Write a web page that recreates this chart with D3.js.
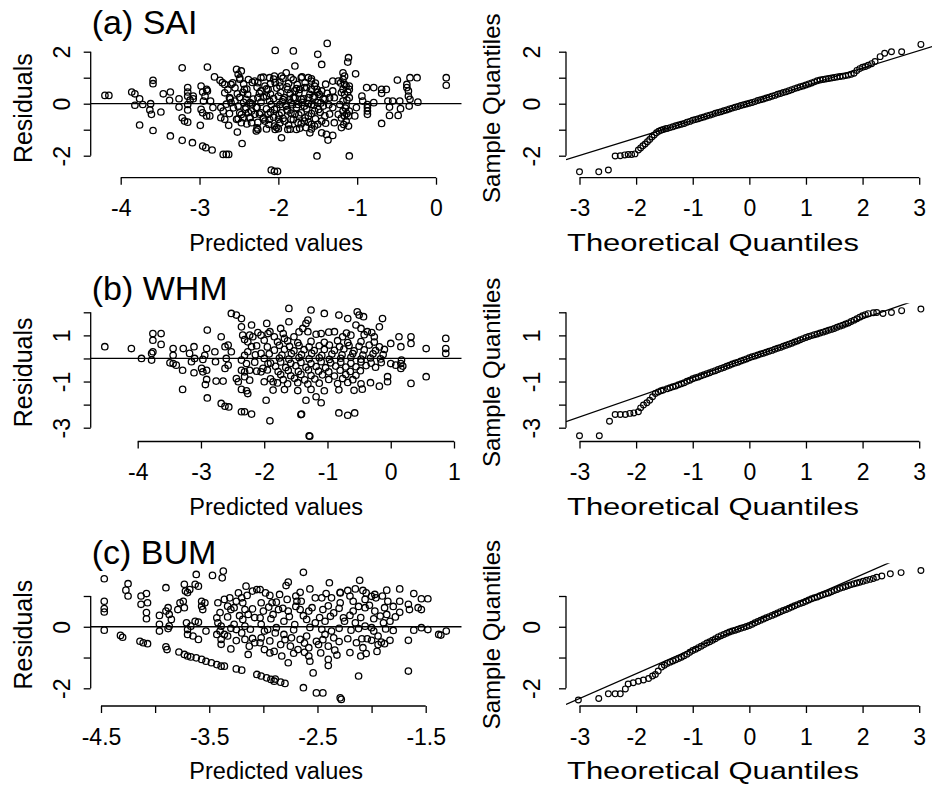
<!DOCTYPE html>
<html>
<head>
<meta charset="utf-8">
<script src="https://cdnjs.cloudflare.com/ajax/libs/d3/7.8.5/d3.min.js"></script>
<style>
  body { margin: 0; background: #fff; }
  text { font-family: "Liberation Sans", Arial, Helvetica, sans-serif; fill: #000; }
</style>
</head>
<body>
<svg id="fig" width="932" height="793"></svg>
<script>
// ---- data ----
// (a) SAI : residuals vs predicted values
var saiResid = [
  [-4.20,0.32],[-4.15,0.32],[-3.86,0.45],[-3.82,0.38],[-3.76,0.19],[-3.82,-0.06],[-3.72,-0.03],[-3.76,-0.82],
  [-3.59,0.90],[-3.59,0.77],[-3.62,0.00],[-3.63,-0.24],[-3.61,-0.41],[-3.59,-1.03],[-3.49,-0.32],[-3.46,0.38],
  [-3.37,0.45],[-3.38,0.13],[-3.37,-1.24],[-3.26,0.19],[-3.26,-0.13],[-3.22,1.38],[-3.22,-0.54],[-3.19,-0.67],
  [-3.15,-0.71],[-3.22,-1.41],[-3.15,0.62],[-3.15,0.45],[-3.15,0.29],[-3.12,0.14],[-3.15,-0.03],[-3.15,-0.24],
  [-3.08,0.29],[-3.08,0.19],[-3.09,-1.50],[-2.99,-0.83],[-2.98,0.68],[-2.96,0.45],[-2.93,0.29],[-2.95,0.10],
  [-2.98,-0.22],[-2.96,-0.35],[-2.91,-0.47],[-2.87,-0.47],[-2.96,-1.63],[-2.92,-1.69],[-2.90,1.41],[-2.84,-1.78],
  [-2.91,0.55],[-2.90,0.49],[-2.81,1.03],[-2.74,0.90],[-2.71,0.81],[-2.68,0.74],[-2.86,0.10],[-2.83,-0.15],
  [-2.73,-0.15],[-2.70,-0.28],[-2.73,-0.54],[-2.68,-0.60],[-2.70,-1.95],[-2.66,-1.95],[-2.63,-1.95],[-2.63,-0.83],
  [-2.64,0.55],[-2.60,0.74],[-2.62,0.23],[-2.60,0.04],[-2.53,1.32],[-2.51,1.13],[-2.49,0.94],[-2.47,1.26],
  [-2.55,0.10],[-2.51,-0.09],[-2.49,-0.35],[-2.53,-0.60],[-2.47,-0.73],[-2.45,-0.54],[-2.52,-1.09],[-2.46,-1.53],
  [-2.43,0.55],[-2.39,0.36],[-2.41,0.17],[-2.36,0.04],[-2.41,-0.15],[-2.34,-0.28],[-2.30,-0.41],[-2.36,-0.54],
  [-2.34,-0.73],[-2.30,0.87],[-2.22,1.00],[-2.26,0.81],[-2.17,0.68],[-2.22,0.49],[-2.13,0.55],[-2.15,0.29],
  [-2.11,0.10],[-2.26,0.23],[-2.28,-0.15],[-2.22,-0.35],[-2.19,-0.54],[-2.17,-0.67],[-2.26,-0.99],[-2.28,-1.05],
  [-2.13,-0.41],[-2.05,-0.22],[-2.11,-0.60],[-2.05,-0.86],[-2.04,-0.99],[-2.05,1.06],[-2.04,0.81],[-2.11,1.00],
  [-2.04,2.05],[-2.09,-2.55],[-2.05,-2.60],[-2.01,-2.60],
  [-1.81,2.03],[-1.50,1.90],[-1.38,2.32],[-1.45,1.51],[-1.79,1.45],[-1.90,1.19],[-1.84,1.00],[-1.71,1.00],
  [-1.62,1.00],[-1.58,0.87],[-1.96,1.06],[-1.98,0.68],[-1.88,0.55],[-1.79,0.49],[-1.73,0.55],[-1.67,0.62],
  [-1.58,0.55],[-1.54,0.68],[-1.45,0.49],[-2.00,0.29],[-1.92,0.23],[-1.86,0.17],[-1.79,0.23],[-1.71,0.17],
  [-1.62,0.23],[-1.54,0.29],[-1.48,0.36],[-1.41,0.17],[-1.35,0.23],[-1.98,-0.03],[-1.90,-0.09],[-1.84,0.04],
  [-1.75,-0.03],[-1.67,-0.09],[-1.58,-0.03],[-1.50,0.04],[-1.43,-0.09],[-1.96,-0.35],[-1.88,-0.28],[-1.79,-0.41],
  [-1.71,-0.35],[-1.62,-0.47],[-1.54,-0.28],[-1.41,-0.47],[-2.00,-0.60],[-1.92,-0.67],[-1.84,-0.60],[-1.75,-0.73],
  [-1.67,-0.67],[-1.58,-0.79],[-1.45,-0.67],[-2.00,-0.96],[-1.88,-0.99],[-1.77,-0.99],[-1.65,-0.92],[-1.54,-0.86],
  [-1.96,-1.31],[-1.60,-1.12],[-1.45,-1.12],[-1.39,-1.18],[-1.37,-1.40],[-1.31,-1.22],[-1.51,-2.01],[-1.31,0.87],
  [-1.24,0.87],[-1.31,0.49],[-1.29,0.23],[-1.31,-0.15],[-1.24,-0.41],[-1.29,-0.73],[-1.18,1.19],[-1.16,1.06],
  [-1.18,0.94],[-1.16,0.74],[-1.18,0.55],[-1.14,0.68],[-1.16,0.36],[-1.18,0.10],[-1.14,-0.09],[-1.18,-0.28],
  [-1.16,-0.47],[-1.14,-0.67],[-1.11,-0.86],[-1.11,1.77],[-1.12,1.60],[-1.10,0.68],[-1.10,0.55],[-1.10,0.23],
  [-1.10,-0.28],[-1.11,-0.47],[-1.10,-2.01],[-1.02,1.15],[-1.01,-0.15],[-1.03,-0.47],[-0.94,0.29],[-0.93,0.10],
  [-0.88,0.62],[-0.79,0.62],[-0.87,-0.03],[-0.87,-0.15],[-0.87,-0.28],[-0.87,-0.41],[-0.79,0.04],[-0.69,0.55],
  [-0.63,0.55],[-0.69,0.40],[-0.69,-0.76],[-0.61,0.10],[-0.59,-0.13],[-0.59,-0.45],[-0.48,-0.45],[-0.55,0.10],
  [-0.49,0.91],[-0.46,0.10],[-0.45,-0.19],[-0.37,0.74],[-0.37,0.62],[-0.35,0.49],[-0.35,0.29],[-0.33,0.17],
  [-0.34,-0.09],[-0.33,1.00],[-0.24,1.00],[-0.23,0.06],[0.13,1.00],[0.13,0.71],
  [-2.49,0.99],[-2.38,0.93],[-2.19,1.02],[-2.06,0.95],[-1.94,0.98],[-1.81,0.92],[-1.70,1.03],[-1.58,0.96],
  [-2.55,0.61],[-2.40,0.56],[-2.27,0.63],[-2.15,0.57],[-2.02,0.60],[-1.89,0.65],[-1.77,0.58],[-1.64,0.62],[-1.51,0.55],
  [-2.61,0.19],[-2.49,0.24],[-2.32,0.18],[-2.19,0.25],[-2.06,0.20],[-1.94,0.16],[-1.81,0.23],[-1.68,0.19],[-1.56,0.25],[-1.43,0.20],
  [-2.57,-0.16],[-2.42,-0.21],[-2.27,-0.14],[-2.15,-0.20],[-2.02,-0.17],[-1.89,-0.23],[-1.77,-0.15],[-1.64,-0.19],[-1.49,-0.22],
  [-2.51,-0.58],[-2.36,-0.53],[-2.19,-0.59],[-2.06,-0.52],[-1.94,-0.57],[-1.81,-0.61],[-1.66,-0.54],[-1.53,-0.58],
  [-2.27,-0.93],[-2.15,-0.97],[-2.02,-0.92],[-1.85,-0.98],[-1.73,-0.94],[-1.58,-0.97],
  [-2.58,0.80],[-2.44,0.76],[-2.33,0.82],[-2.10,0.77],[-1.98,0.83],[-1.87,0.78],[-1.76,0.74],[-1.66,0.81],[-1.53,0.79],[-1.40,0.75],
  [-2.68,0.42],[-2.52,0.38],[-2.45,0.44],[-2.24,0.40],[-2.10,0.37],[-1.97,0.43],[-1.85,0.39],[-1.74,0.41],[-1.60,0.36],[-1.50,0.44],[-1.38,0.40],
  [-2.66,-0.02],[-2.44,0.05],[-2.33,-0.01],[-2.22,0.06],[-2.09,-0.03],[-1.95,0.07],[-1.82,-0.04],[-1.70,0.05],[-1.62,0.00],[-1.55,-0.05],[-1.46,0.03],[-1.36,-0.04],
  [-2.62,-0.38],[-2.47,-0.42],[-2.38,-0.34],[-2.24,-0.40],[-2.10,-0.33],[-1.99,-0.44],[-1.84,-0.36],[-1.74,-0.43],[-1.58,-0.38],[-1.47,-0.33],[-1.35,-0.40],
  [-2.40,-0.78],[-2.26,-0.72],[-2.12,-0.80],[-1.98,-0.74],[-1.87,-0.82],[-1.71,-0.77],[-1.62,-0.71],[-1.50,-0.79],[-1.40,-0.75],
  [-1.21,0.80],[-1.20,0.43],[-1.22,-0.03],[-1.20,-0.55],[-1.13,0.14],[-1.15,-0.17],[-1.12,0.45],[-1.17,-0.80],[-1.13,-0.38],[-1.20,-0.92]
];

// (b) WHM : residuals vs predicted values
var whmResid = [
  [-4.52,0.51],[-4.10,0.43],[-3.94,0.00],[-3.78,0.22],[-3.76,0.29],[-3.78,-0.07],[-3.76,1.08],[-3.63,1.08],
  [-3.76,0.79],[-3.63,0.61],[-3.49,-0.19],[-3.44,-0.22],[-3.39,-0.29],[-3.44,0.43],[-3.44,0.14],[-3.29,-0.51],
  [-3.29,-1.34],[-3.28,0.43],[-3.18,0.22],[-3.15,-0.14],[-3.11,0.51],[-3.10,0.00],[-3.11,-0.62],[-2.99,-0.43],
  [-2.97,-0.58],[-2.91,-0.51],[-2.94,0.14],[-2.91,0.43],[-2.97,-0.04],[-2.90,1.23],[-2.91,-0.91],[-2.93,-1.13],
  [-2.90,-1.71],[-2.78,0.29],[-2.77,-0.14],[-2.76,-0.98],[-2.65,-0.98],[-2.68,0.94],[-2.62,0.51],[-2.57,0.58],
  [-2.52,0.29],[-2.60,0.00],[-2.57,-0.29],[-2.62,-0.43],[-2.68,-1.95],[-2.62,-2.07],[-2.56,-2.10],[-2.52,1.95],
  [-2.44,1.88],[-2.36,1.73],[-2.36,1.37],[-2.34,1.01],[-2.31,0.82],[-2.44,-0.87],[-2.41,-1.01],[-2.31,-0.79],
  [-2.23,-0.94],[-2.36,-2.31],[-2.31,-2.31],[-2.20,-2.41],[-2.20,1.45],[-2.23,1.01],[-2.18,0.94],[-2.26,0.72],
  [-2.20,0.51],[-2.26,0.29],[-2.31,0.14],[-2.36,-0.07],[-2.28,-0.22],[-2.36,-0.51],[-2.31,-0.58],[-2.23,-0.51],
  [-2.36,-1.34],[-2.28,-1.40],[-2.26,-1.52],[-2.00,-1.01],[-1.97,-1.81],[-2.05,1.01],[-2.00,0.79],[-1.94,1.08],
  [-1.91,1.16],[-2.05,0.22],[-2.00,0.00],[-1.94,-0.22],[-2.02,-0.43],[-2.05,-0.58],[-1.91,-2.70],[-1.96,1.52],
  [-1.86,-1.01],[-1.86,-1.37],
  [-1.61,2.17],[-1.26,2.10],[-1.05,1.95],[-0.82,1.88],[-0.68,1.73],[-0.53,2.02],[-0.50,1.88],[-0.43,1.81],
  [-0.13,1.73],[-1.61,1.59],[-1.31,1.66],[-1.34,1.52],[-1.39,1.30],[-1.74,1.30],[-1.84,0.94],[-1.68,0.87],
  [-1.53,0.94],[-1.31,1.16],[-1.10,1.08],[-0.89,1.16],[-0.76,0.94],[-0.63,1.01],[-0.55,1.45],[-0.47,1.30],
  [-0.37,1.16],[-0.26,0.94],[-0.18,1.37],[0.00,0.65],[0.13,0.94],[0.16,0.51],[0.32,0.94],[0.32,0.65],
  [0.56,0.43],[0.87,0.87],[0.87,0.43],[0.87,0.22],[0.00,-0.22],[0.08,-0.29],[0.16,-0.22],[0.16,-0.43],
  [-0.05,-0.79],[-0.05,-1.01],[0.32,-1.08],[0.56,-0.79],[-0.18,-1.20],[-0.32,-1.05],[0.17,-0.07],[0.19,-0.33],
  [-1.79,0.72],[-1.63,0.76],[-1.47,0.68],[-1.26,0.74],[-1.05,0.70],[-0.84,0.77],[-0.68,0.69],[-0.47,0.73],[-0.26,0.71],
  [-1.84,0.36],[-1.68,0.40],[-1.53,0.33],[-1.37,0.38],[-1.21,0.34],[-1.05,0.39],[-0.89,0.35],[-0.74,0.41],
  [-0.58,0.33],[-0.42,0.37],[-0.24,0.34],[-0.10,0.39],
  [-1.76,0.02],[-1.61,-0.03],[-1.45,0.04],[-1.29,-0.02],[-1.13,0.03],[-0.97,-0.04],[-0.79,0.01],[-0.63,0.05],
  [-0.47,-0.03],[-0.32,0.02],[-0.16,-0.02],
  [-1.82,-0.34],[-1.66,-0.39],[-1.50,-0.32],[-1.34,-0.38],[-1.18,-0.35],[-1.03,-0.40],[-0.87,-0.33],[-0.71,-0.37],
  [-0.55,-0.36],[-0.39,-0.31],[-0.24,-0.38],
  [-1.74,-0.70],[-1.58,-0.75],[-1.42,-0.69],[-1.26,-0.74],[-1.08,-0.71],[-0.89,-0.76],[-0.71,-0.70],[-0.55,-0.73],
  [-1.79,-1.06],[-1.63,-1.10],[-1.47,-1.05],[-1.31,-1.11],[-1.13,-1.07],[-0.84,-1.09],[-0.68,-1.04],[-0.47,-1.10],
  [-1.68,-1.35],[-1.47,-1.39],[-1.26,-1.34],[-1.05,-1.40],[-0.82,-1.36],[-0.58,-1.38],[-0.45,-1.33],
  [-1.34,-1.81],[-1.18,-1.66],[-1.10,-1.92],[-1.42,-2.43],[-0.82,-2.36],[-0.68,-2.46],[-0.57,-2.36],
  [-1.29,-3.35],[-1.28,-3.37],[-1.41,-2.41],
  [-2.10,1.12],[-1.70,1.08],[-1.45,1.15],[-1.18,1.05],[-0.98,1.14],[-0.70,1.10],[-0.42,1.03],[-0.30,1.12],
  [-2.12,0.55],[-1.95,0.50],[-1.76,0.57],[-1.60,0.52],[-1.45,0.56],[-1.29,0.50],[-1.13,0.55],[-0.97,0.58],
  [-0.81,0.51],[-0.66,0.56],[-0.50,0.53],[-0.34,0.58],[-0.18,0.50],
  [-2.14,0.16],[-1.92,0.20],[-1.72,0.15],[-1.57,0.21],[-1.41,0.17],[-1.25,0.22],[-1.09,0.14],[-0.93,0.19],
  [-0.77,0.16],[-0.60,0.21],[-0.44,0.15],[-0.28,0.20],[-0.12,0.17],
  [-2.15,-0.16],[-1.90,-0.20],[-1.74,-0.15],[-1.58,-0.21],[-1.42,-0.17],[-1.26,-0.22],[-1.10,-0.14],[-0.95,-0.19],
  [-0.79,-0.16],[-0.63,-0.21],[-0.47,-0.15],[-0.31,-0.20],[-0.15,-0.18],
  [-2.12,-0.55],[-1.95,-0.50],[-1.78,-0.57],[-1.62,-0.52],[-1.46,-0.56],[-1.30,-0.50],[-1.14,-0.55],[-0.98,-0.58],
  [-0.80,-0.51],[-0.64,-0.56],[-0.48,-0.53],
  [-1.90,-0.88],[-1.70,-0.92],[-1.52,-0.86],[-1.36,-0.93],[-1.20,-0.89],[-0.98,-0.91],[-0.76,-0.87],[-0.60,-0.92]
];

// (c) BUM : residuals vs predicted values
var bumResid = [
  [-4.47,1.56],[-4.47,0.83],[-4.47,0.59],[-4.47,0.48],[-4.47,-0.11],[-4.32,-0.28],[-4.30,-0.34],[-4.25,1.40],
  [-4.27,1.19],[-4.25,1.00],[-4.14,-0.47],[-4.11,-0.52],[-4.07,-0.55],[-4.13,1.00],[-4.08,1.08],[-4.13,0.73],
  [-4.07,0.78],[-4.08,0.46],[-4.08,0.26],[-3.90,1.27],[-3.96,0.37],[-3.96,0.08],[-3.96,-0.14],[-3.90,-0.65],
  [-3.89,-0.74],[-3.88,0.62],[-3.90,0.51],[-3.87,0.40],[-3.85,0.24],[-3.87,0.02],[-3.88,-0.06],[-3.78,-0.82],
  [-3.73,-0.90],[-3.70,-0.95],[-3.67,-0.98],[-3.62,-1.01],[-3.57,-1.06],[-3.53,-1.12],[-3.48,-1.17],[-3.43,-1.23],
  [-3.39,-1.28],[-3.36,-1.28],[-3.25,-1.37],[-3.20,-1.41],[-3.06,-1.55],[-3.02,-1.60],[-2.97,-1.66],[-2.93,-1.71],
  [-2.90,-1.77],[-3.73,1.38],[-3.72,1.16],[-3.68,1.21],[-3.70,1.11],[-3.62,1.70],[-3.60,1.32],[-3.63,1.38],
  [-3.77,0.78],[-3.74,0.83],[-3.73,0.62],[-3.79,0.56],[-3.71,0.13],[-3.70,-0.09],[-3.67,0.02],[-3.70,-0.25],
  [-3.65,-0.30],[-3.60,-0.41],[-3.63,0.18],[-3.60,0.15],[-3.57,0.83],[-3.54,0.78],[-3.56,0.56],[-3.57,0.67],
  [-3.53,-0.14],[-3.47,1.67],[-3.37,1.81],[-3.38,1.59],[-3.42,0.78],[-3.40,0.46],[-3.43,0.29],[-3.42,0.13],
  [-3.39,0.02],[-3.40,-0.14],[-3.36,-0.25],[-3.43,-0.25],[-3.39,-0.41],[-3.39,-0.57],[-3.33,-0.30],[-3.30,-0.72],
  [-3.36,0.89],[-3.31,0.94],[-3.33,0.67],[-3.30,0.56],[-3.25,0.83],[-3.27,0.08],[-3.25,-0.09],[-3.23,1.10],
  [-3.20,0.94],[-3.19,0.78],[-3.17,0.56],[-3.14,0.40],[-3.19,0.24],[-3.17,0.02],[-3.20,-0.20],[-3.17,-0.41],
  [-3.13,-0.63],[-3.08,-0.52],[-3.16,1.32],[-3.10,1.16],[-3.06,1.21],[-3.03,1.21],[-3.14,-0.90],[-3.02,0.78],
  [-3.00,0.51],[-3.03,0.29],[-3.02,0.08],[-2.99,-0.14],[-3.02,-0.36],[-3.03,-0.52],[-2.99,-0.74],[-2.94,-0.85],
  [-2.96,-0.09],[-2.91,0.40],[-2.94,1.02],[-2.92,0.78],
  [-2.63,1.77],[-2.77,1.45],[-2.79,1.34],[-2.66,1.12],[-2.57,1.23],[-2.39,1.43],[-2.29,1.12],[-2.29,1.10],
  [-2.22,1.18],[-2.15,1.23],[-2.11,1.51],[-2.08,1.18],[-1.97,1.05],[-1.96,0.94],[-1.86,1.19],[-1.74,1.23],
  [-1.61,1.08],[-1.54,0.91],[-1.48,0.91],[-2.88,0.80],[-2.78,0.89],[-2.69,0.83],[-2.65,0.83],[-2.52,0.94],
  [-2.46,0.94],[-2.37,0.94],[-2.29,0.78],[-2.17,0.83],[-2.06,0.89],[-2.00,0.99],[-1.85,0.83],[-1.74,0.83],
  [-1.66,0.73],[-1.57,0.62],[-2.86,0.56],[-2.77,0.51],[-2.66,0.56],[-2.58,0.51],[-2.45,0.56],[-2.35,0.45],
  [-2.26,0.29],[-2.17,0.51],[-2.06,0.62],[-1.97,0.51],[-1.92,0.35],[-1.83,0.18],[-1.74,0.47],[-1.65,0.56],
  [-1.54,0.56],[-2.81,0.18],[-2.71,0.07],[-2.60,0.24],[-2.52,0.13],[-2.43,0.18],[-2.37,-0.14],[-2.25,0.18],
  [-2.15,0.13],[-2.06,0.02],[-2.00,-0.03],[-1.89,0.13],[-1.61,-0.11],[-1.54,-0.03],[-1.48,-0.09],[-1.38,-0.25],
  [-1.31,-0.14],[-2.89,-0.20],[-2.81,-0.25],[-2.74,-0.36],[-2.66,-0.41],[-2.60,-0.30],[-2.51,-0.47],[-2.43,-0.25],
  [-2.35,-0.36],[-2.22,-0.39],[-2.09,-0.39],[-2.04,-0.39],[-1.94,-0.30],[-1.83,-0.44],[-1.66,-0.44],[-2.84,-0.58],
  [-2.75,-0.63],[-2.68,-0.74],[-2.58,-0.68],[-2.49,-0.58],[-2.40,-0.63],[-2.34,-0.76],[-2.08,-0.68],[-2.05,-0.87],
  [-1.94,-0.58],[-1.91,-0.50],[-2.83,-0.95],[-2.77,-1.17],[-2.58,-0.95],[-2.57,-1.12],[-2.40,-1.06],[-2.40,-1.26],
  [-2.89,-1.70],[-2.84,-1.80],[-2.80,-1.84],[-2.54,-1.50],[-2.63,-1.98],[-2.51,-2.15],[-2.45,-2.15],[-2.29,-2.31],
  [-2.28,-2.36],[-2.12,-1.60],[-1.66,-1.44],[-1.36,-0.27],
  [-3.27,0.62],[-3.10,0.58],[-2.95,0.64],[-2.82,0.60],[-2.70,0.66],[-2.55,0.62],[-2.40,0.68],[-2.30,0.60],
  [-2.12,0.66],[-2.02,0.70],[-1.88,0.62],[-1.80,0.66],
  [-3.33,0.32],[-3.22,0.36],[-3.08,0.30],[-2.93,0.26],[-2.76,0.33],[-2.63,0.36],[-2.48,0.30],[-2.38,0.34],
  [-2.20,0.37],[-2.10,0.30],[-1.98,0.26],[-1.86,0.40],[-1.78,0.32],
  [-3.30,-0.05],[-3.12,-0.08],[-2.88,-0.03],[-2.72,-0.10],[-2.57,-0.02],[-2.46,-0.08],[-2.30,-0.05],[-2.19,-0.11],
  [-2.12,-0.06],[-1.98,-0.14],[-1.87,-0.07],[-1.80,-0.12],
  [-3.25,-0.45],[-3.10,-0.38],[-2.94,-0.46],[-2.80,-0.42],[-2.62,-0.53],[-2.45,-0.42],[-2.30,-0.48],[-2.14,-0.52],
  [-2.00,-0.44],[-1.88,-0.55],
  [-2.90,-0.80],[-2.72,-0.86],[-2.62,-0.83],[-2.47,-0.85],[-2.32,-0.92],[-2.20,-0.84],[-2.10,-0.95],[-1.95,-0.80],
  [-3.15,1.02],[-2.98,1.10],[-2.85,1.05],[-2.70,1.00],[-2.42,1.08],[-2.20,1.00],[-2.05,1.10],[-1.90,1.00]
];

// normal Q-Q points: [theoretical quantile, sample quantile]
var saiQQ = [
  [-3.00,-2.62],[-2.66,-2.62],[-2.49,-2.55],[-2.37,-2.01],[-2.28,-2.00],[-2.20,-1.97],[-2.14,-1.95],[-2.08,-1.95],
  [-2.02,-1.93],[-1.96,-1.78],[-1.92,-1.70],[-1.88,-1.62],[-1.84,-1.55],[-1.80,-1.46],[-1.76,-1.38],[-1.72,-1.28],
  [-1.68,-1.20],[-1.64,-1.12],[-1.60,-1.06],[-1.56,-1.02],[-1.52,-0.99],[-1.48,-0.96],
  [-1.45,-0.95],[-1.40,-0.92],[-1.35,-0.89],[-1.30,-0.85],[-1.25,-0.82],[-1.20,-0.79],[-1.15,-0.76],[-1.10,-0.71],
  [-1.05,-0.68],[-1.00,-0.64],[-0.95,-0.61],[-0.90,-0.58],[-0.85,-0.54],[-0.80,-0.51],[-0.75,-0.47],[-0.70,-0.44],
  [-0.65,-0.41],[-0.60,-0.37],[-0.55,-0.34],[-0.50,-0.31],[-0.45,-0.27],[-0.40,-0.24],[-0.35,-0.20],[-0.30,-0.17],
  [-0.25,-0.14],[-0.20,-0.11],[-0.15,-0.07],[-0.10,-0.04],[-0.05,-0.01],[0.00,0.02],[0.05,0.05],[0.10,0.08],
  [0.15,0.12],[0.20,0.15],[0.25,0.18],[0.30,0.22],[0.35,0.25],[0.40,0.29],[0.45,0.32],[0.50,0.36],
  [0.55,0.39],[0.60,0.43],[0.65,0.46],[0.70,0.50],[0.75,0.54],[0.80,0.58],[0.85,0.61],[0.90,0.65],
  [0.95,0.68],[1.00,0.72],[1.05,0.76],[1.10,0.80],[1.15,0.84],[1.20,0.88],[1.25,0.91],[1.30,0.93],
  [1.35,0.95],[1.40,0.97],[1.45,0.99],[1.50,1.01],[1.55,1.03],[1.60,1.05],[1.65,1.06],[1.70,1.08],
  [1.75,1.10],[1.80,1.13],[1.85,1.17],
  [1.90,1.28],[1.95,1.35],[2.00,1.40],[2.05,1.43],[2.10,1.48],[2.16,1.54],[2.22,1.62],[2.31,1.81],
  [2.39,1.94],[2.51,2.00],[2.69,2.00],[3.03,2.28]
];
var whmQQ = [
  [-3.00,-3.35],[-2.65,-3.35],[-2.47,-2.72],[-2.37,-2.43],[-2.28,-2.43],[-2.19,-2.43],[-2.11,-2.38],[-2.04,-2.36],
  [-1.96,-2.31],[-1.92,-2.14],[-1.87,-2.02],[-1.81,-1.92],[-1.76,-1.81],[-1.71,-1.66],[-1.66,-1.52],[-1.61,-1.45],
  [-1.56,-1.40],[-1.52,-1.37],
  [-1.45,-1.31],[-1.40,-1.27],[-1.35,-1.23],[-1.30,-1.19],[-1.25,-1.14],[-1.20,-1.10],[-1.15,-1.05],[-1.10,-0.99],
  [-1.05,-0.94],[-1.00,-0.88],[-0.95,-0.84],[-0.90,-0.80],[-0.85,-0.75],[-0.80,-0.71],[-0.75,-0.66],[-0.70,-0.62],
  [-0.65,-0.57],[-0.60,-0.53],[-0.55,-0.48],[-0.50,-0.43],[-0.45,-0.39],[-0.40,-0.34],[-0.35,-0.29],[-0.30,-0.24],
  [-0.25,-0.20],[-0.20,-0.16],[-0.15,-0.11],[-0.10,-0.07],[-0.05,-0.02],[0.00,0.03],[0.05,0.07],[0.10,0.11],
  [0.15,0.15],[0.20,0.19],[0.25,0.23],[0.30,0.27],[0.35,0.31],[0.40,0.35],[0.45,0.40],[0.50,0.44],
  [0.55,0.48],[0.60,0.53],[0.65,0.57],[0.70,0.62],[0.75,0.66],[0.80,0.71],[0.85,0.76],[0.90,0.81],
  [0.95,0.86],[1.00,0.91],[1.05,0.95],[1.10,0.99],[1.15,1.03],[1.20,1.06],[1.25,1.10],[1.30,1.14],
  [1.35,1.18],[1.40,1.22],[1.45,1.26],[1.50,1.30],[1.55,1.35],[1.60,1.40],[1.65,1.44],[1.70,1.49],
  [1.75,1.54],[1.80,1.60],[1.85,1.66],
  [1.90,1.72],[1.95,1.79],[2.00,1.85],[2.05,1.90],[2.10,1.94],[2.19,1.98],[2.25,1.99],[2.36,1.95],
  [2.51,1.99],[2.69,2.07],[3.03,2.14]
];
var bumQQ = [
  [-3.02,-2.38],[-2.66,-2.33],[-2.49,-2.18],[-2.37,-2.18],[-2.28,-2.18],[-2.19,-2.02],[-2.14,-1.86],[-2.05,-1.82],
  [-1.96,-1.77],[-1.87,-1.73],[-1.78,-1.68],[-1.71,-1.60],[-1.66,-1.55],[-1.61,-1.44],[-1.55,-1.31],[-1.50,-1.25],
  [-1.45,-1.19],[-1.40,-1.15],[-1.35,-1.11],[-1.30,-1.07],[-1.25,-1.03],[-1.20,-0.99],[-1.15,-0.94],[-1.10,-0.89],
  [-1.05,-0.83],[-1.00,-0.77],[-0.95,-0.73],[-0.90,-0.68],[-0.85,-0.63],[-0.80,-0.58],[-0.75,-0.53],[-0.70,-0.49],
  [-0.65,-0.44],[-0.60,-0.39],[-0.55,-0.33],[-0.50,-0.29],[-0.45,-0.25],[-0.40,-0.21],[-0.35,-0.17],[-0.30,-0.14],
  [-0.25,-0.11],[-0.20,-0.08],[-0.15,-0.05],[-0.10,-0.02],[-0.05,0.01],[0.00,0.04],[0.05,0.08],[0.10,0.13],
  [0.15,0.17],[0.20,0.21],[0.25,0.25],[0.30,0.29],[0.35,0.33],[0.40,0.37],[0.45,0.41],[0.50,0.45],
  [0.55,0.49],[0.60,0.53],[0.65,0.56],[0.70,0.60],[0.75,0.64],[0.80,0.68],[0.85,0.72],[0.90,0.76],
  [0.95,0.79],[1.00,0.83],[1.05,0.87],[1.10,0.91],[1.15,0.94],[1.20,0.97],[1.25,1.01],[1.30,1.04],
  [1.35,1.07],[1.40,1.10],[1.45,1.14],[1.50,1.18],[1.55,1.21],[1.60,1.25],[1.65,1.28],[1.70,1.31],
  [1.75,1.34],[1.80,1.37],[1.85,1.40],
  [1.90,1.42],[1.95,1.45],[2.01,1.48],[2.07,1.51],[2.13,1.54],[2.19,1.57],[2.25,1.61],[2.34,1.65],
  [2.49,1.72],[2.68,1.76],[3.03,1.83]
];

// qqline: [intercept, slope]
var saiQQLine = [0.026, 0.672];
var whmQQLine = [0.02, 0.851];
var bumQQLine = [0.087, 0.807];

// tick values and which of them carry a label
var saiPredTicks = [-4, -3, -2, -1, 0],      saiPredLabels = [-4, -3, -2, -1, 0];
var whmPredTicks = [-4, -3, -2, -1, 0, 1],   whmPredLabels = [-4, -3, -2, -1, 0, 1];
var bumPredTicks = [-4.5, -4, -3.5, -3, -2.5, -2, -1.5], bumPredLabels = [-4.5, -3.5, -2.5, -1.5];
var qqTicks = [-3, -2, -1, 0, 1, 2, 3];
var saiResTicks = [-2, -1, 0, 1, 2],         saiResLabels = [-2, 0, 2];
var whmResTicks = [-3, -2, -1, 0, 1, 2],     whmResLabels = [-3, -1, 1];
var bumResTicks = [-2, -1, 0, 1],            bumResLabels = [-2, 0];

// ---- layout ----
var svg = d3.select("#fig");
var leftBox = {l: 90.7, r: 461.7}, rightBox = {l: 566, r: 935};

var rows = [
  {title: "(a) SAI", titleY: 33.5, top: 38.7, bottom: 177.7,
   res: saiResid, qq: saiQQ, qqLine: saiQQLine,
   predTicks: saiPredTicks, predLabels: saiPredLabels, predDom: [-4, 0], predPx: [120.7, 436],
   yTicks: saiResTicks, yLabels: saiResLabels, yDom: [2, -2], yPx: [51.7, 155.7]},
  {title: "(b) WHM", titleY: 300, top: 303.2, bottom: 441.5,
   res: whmResid, qq: whmQQ, qqLine: whmQQLine,
   predTicks: whmPredTicks, predLabels: whmPredLabels, predDom: [-4, 1], predPx: [137.7, 454],
   yTicks: whmResTicks, yLabels: whmResLabels, yDom: [2, -3], yPx: [312.3, 427.7]},
  {title: "(c) BUM", titleY: 564.3, top: 563.3, bottom: 706,
   res: bumResid, qq: bumQQ, qqLine: bumQQLine,
   predTicks: bumPredTicks, predLabels: bumPredLabels, predDom: [-4.5, -1.5], predPx: [101, 425.7],
   yTicks: bumResTicks, yLabels: bumResLabels, yDom: [1, -2], yPx: [596, 688.3]}
];

rows.forEach(function(row, i) {
  var yScale = d3.scaleLinear().domain(row.yDom).range(row.yPx);

  // residuals panel
  var xRes = d3.scaleLinear().domain(row.predDom).range(row.predPx);
  drawPanel(row, i, "res", xRes, yScale, leftBox, row.predTicks, row.predLabels,
            "Predicted values", "Residuals", 70, 31.5);

  // Q-Q panel
  var xQQ = d3.scaleLinear().domain([-3, 3]).range([579.5, 919.2]);
  drawPanel(row, i, "qq", xQQ, yScale, rightBox, qqTicks, qqTicks,
            "Theoretical Quantiles", "Sample Quantiles", 540, 499.5);

  svg.append("text")
    .attr("x", 91.7)
    .attr("y", row.titleY)
    .attr("font-size", 34)
    .text(row.title);
});

function drawPanel(row, i, kind, x, y, box, xt, xl, xTitle, yTitle, yTickX, yTitleX) {
  var g = svg.append("g");
  var clipId = "clip-" + kind + i;

  svg.append("clipPath").attr("id", clipId)
    .append("rect")
    .attr("x", box.l).attr("y", row.top)
    .attr("width", box.r - box.l).attr("height", row.bottom - row.top);

  // reference line: h = 0 for residuals, qqline for Q-Q
  var xa = x.invert(box.l), xb = x.invert(box.r);
  var ya = 0, yb = 0;
  if (kind == "qq") {
    ya = row.qqLine[0] + row.qqLine[1] * xa;
    yb = row.qqLine[0] + row.qqLine[1] * xb;
  }
  g.append("line")
    .attr("clip-path", "url(#" + clipId + ")")
    .attr("x1", x(xa)).attr("y1", y(ya))
    .attr("x2", x(xb)).attr("y2", y(yb))
    .attr("stroke", "#000")
    .attr("stroke-width", 1.3);

  var pts = kind == "res" ? row.res : row.qq;
  g.selectAll("circle.pt")
    .data(pts)
    .join("circle")
      .attr("class", "pt")
      .attr("cx", function(d) { return x(d[0]); })
      .attr("cy", function(d) { return y(d[1]); })
      .attr("r", kind == "res" ? 3.2 : 2.9)
      .attr("fill", "none")
      .attr("stroke", "#000")
      .attr("stroke-width", kind == "res" ? 1.3 : 1.15);

  // x axis
  var xAxis = d3.axisBottom(x)
    .tickValues(xt)
    .tickSize(7)
    .tickFormat(function(d) { return xl.indexOf(d) >= 0 ? String(d) : ""; });

  var gx = g.append("g")
    .attr("transform", "translate(0," + row.bottom + ")")
    .call(xAxis);
  gx.select(".domain").remove();
  gx.selectAll("line").attr("stroke", "#000").attr("stroke-width", 1.3);
  gx.selectAll("text")
    .attr("y", 38.5)
    .attr("dy", null)
    .attr("font-size", 23)
    .attr("fill", "#000");
  gx.append("line")
    .attr("x1", x(xt[0])).attr("x2", x(xt[xt.length - 1]))
    .attr("stroke", "#000").attr("stroke-width", 1.3);

  // y axis
  var yAxis = d3.axisLeft(y)
    .tickValues(row.yTicks)
    .tickSize(7)
    .tickFormat(function(d) { return row.yLabels.indexOf(d) >= 0 ? String(d) : ""; });

  var gy = g.append("g")
    .attr("transform", "translate(" + box.l + ",0)")
    .call(yAxis);
  gy.select(".domain").remove();
  gy.selectAll("line").attr("stroke", "#000").attr("stroke-width", 1.3);
  gy.selectAll("text")
    .attr("x", 0)
    .attr("dy", null)
    .attr("text-anchor", "middle")
    .attr("transform", "translate(" + (yTickX - box.l) + ",0) rotate(-90)")
    .attr("font-size", 23)
    .attr("fill", "#000");
  gy.append("line")
    .attr("y1", y(row.yTicks[0])).attr("y2", y(row.yTicks[row.yTicks.length - 1]))
    .attr("stroke", "#000").attr("stroke-width", 1.3);

  // axis titles
  var xt0 = g.append("text")
    .attr("x", (box.l + Math.min(box.r, 932)) / 2 + (kind == "qq" ? -36 : 0))
    .attr("y", row.bottom + 73)
    .attr("text-anchor", "middle")
    .attr("font-size", 23.5)
    .text(xTitle);
  if (kind == "qq") xt0.attr("textLength", 292).attr("lengthAdjust", "spacingAndGlyphs");

  g.append("text")
    .attr("transform", "translate(" + yTitleX + "," + (row.top + row.bottom) / 2 + ") rotate(-90)")
    .attr("text-anchor", "middle")
    .attr("font-size", kind == "qq" ? 24 : 25)
    .text(yTitle);
}
</script>
</body>
</html>
